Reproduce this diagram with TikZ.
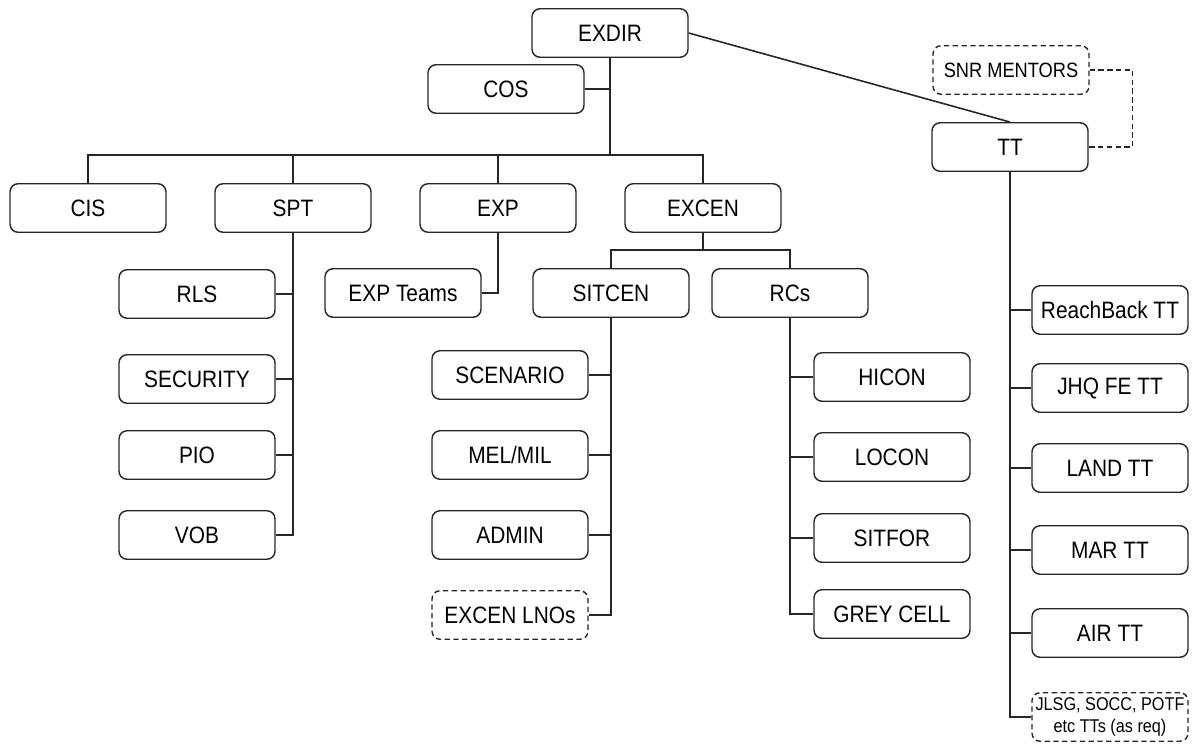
\documentclass[tikz,border=0pt]{standalone}
\usepackage{fontspec}
\setmainfont[FakeStretch=0.88]{Liberation Sans}
\usepackage{tikz}
\usetikzlibrary{calc}
\usepackage{xcolor}

\begin{document}
\begin{tikzpicture}[x=0.02cm,y=-0.02cm]
  \useasboundingbox (0,0) rectangle (1200,744);
  \tikzstyle{every node}=[draw=black!85, line width=0.8pt, rounded corners=0.16cm,
    minimum width=3.12cm, minimum height=0.97cm, inner sep=2pt,
    font=\fontsize{13.5}{15}\selectfont];
  \tikzstyle{dashbox}=[dashed, dash pattern=on 3pt off 2pt];
  \tikzstyle{link}=[draw=black!85, line width=0.9pt];
  % top
  \node (exdir) at (610,33) {EXDIR};
  \node (cos) at (506,89) {COS};
  \node[dashbox, font=\fontsize{11.8}{13}\selectfont] (snr) at (1011,70) {SNR MENTORS};
  \node (tt) at (1010,147) {TT};
  % second row
  \node (cis) at (88,208) {CIS};
  \node (spt) at (293,208) {SPT};
  \node (exp) at (498,208) {EXP};
  \node (excen) at (703,208) {EXCEN};
  \node (expteams) at (403,293) {EXP Teams};
  \node (sitcen) at (611,293) {SITCEN};
  \node (rcs) at (790,293) {RCs};
  % branches
  \foreach \n/\y/\t in {rls/294/RLS,security/379/SECURITY,pio/455/PIO,vob/535/VOB}{
    \node (\n) at (197,\y) {\t};
  }
  \foreach \n/\y/\t in {scenario/375/SCENARIO,melmil/455/{MEL/MIL},admin/535/ADMIN}{
    \node (\n) at (510,\y) {\t};
  }
  \node[dashbox] (lnos) at (510,615) {EXCEN LNOs};
  \foreach \n/\y/\t in {hicon/377/HICON,locon/457/LOCON,sitfor/538/SITFOR,greycell/614/GREY CELL}{
    \node (\n) at (892,\y) {\t};
  }
  \foreach \n/\y/\t in {reachback/310/ReachBack TT,jhq/388/JHQ FE TT,land/468/LAND TT,mar/550/MAR TT,air/633/AIR TT}{
    \node (\n) at (1110,\y) {\t};
  }
  \node[dashbox, align=center, inner sep=1pt, font=\fontsize{10.5}{13}\selectfont] (jlsg) at (1110,717) {JLSG, SOCC, POTF\\etc TTs (as req)};
  % connectors
  \coordinate (bus) at (610,155);
  \coordinate (exbus) at (703,250);
  \draw[link, line width=1.2pt] (exdir.south) -- (bus);
  \draw[link] (cos.east) -- (cos.east -| exdir.south);
  \draw[link] (cis.north) |- (bus) -| (excen.north);
  \draw[link] (spt.north) -- (spt.north |- bus);
  \draw[link] (exp.north) -- (exp.north |- bus);
  \draw[link] (exdir.east) -- (tt.north);
  \draw[link, dashbox] (snr.east) -- ++(43,0) |- (tt.east);
  \draw[link] (excen.south) -- (exbus);
  \draw[link] (sitcen.north) |- (exbus) -| (rcs.north);
  \draw[link] (exp.south) |- (expteams.east);
  \draw[link] (spt.south) |- (vob.east);
  \foreach \n in {rls,security,pio}{
    \draw[link] (\n.east) -- (\n.east -| spt.south);
  }
  \draw[link] (sitcen.south) |- (lnos.east);
  \foreach \n in {scenario,melmil,admin}{
    \draw[link] (\n.east) -- (\n.east -| sitcen.south);
  }
  \draw[link] (rcs.south) |- (greycell.west);
  \foreach \n in {hicon,locon,sitfor}{
    \draw[link] (\n.west) -- (\n.west -| rcs.south);
  }
  \draw[link] (tt.south) |- (jlsg.west);
  \foreach \n in {reachback,jhq,land,mar,air}{
    \draw[link] (\n.west) -- (\n.west -| tt.south);
  }
\end{tikzpicture}
\end{document}
